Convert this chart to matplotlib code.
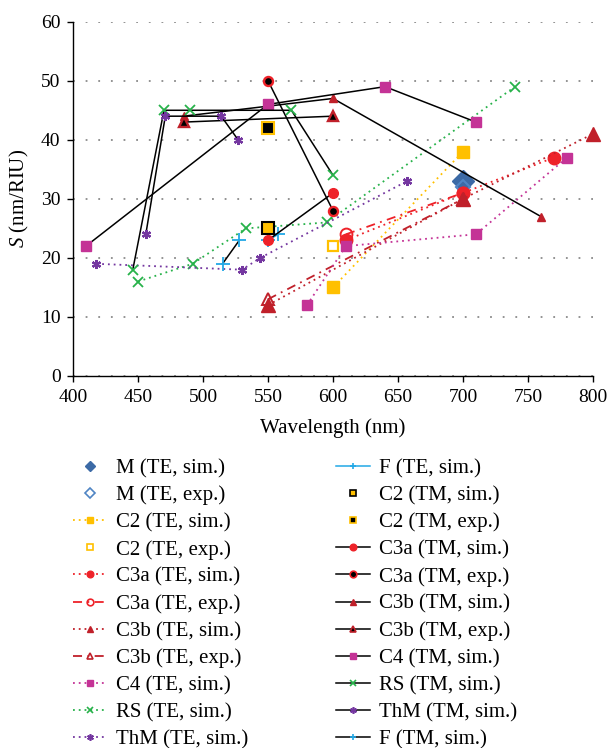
import matplotlib
matplotlib.use("Agg")
import matplotlib.pyplot as plt
from matplotlib.lines import Line2D

plt.rcParams['font.family'] = ['Liberation Serif', 'DejaVu Serif']
plt.rcParams['mathtext.fontset'] = 'custom'
plt.rcParams['mathtext.it'] = 'Liberation Serif:italic'
plt.rcParams['mathtext.rm'] = 'Liberation Serif'

# ---------------- data ----------------
m_te_sim_x, m_te_sim_y = [700], [33]
m_te_exp_x, m_te_exp_y = [700], [32]
c2_te_sim_x, c2_te_sim_y = [600, 700], [15, 38]
c2_te_exp_x, c2_te_exp_y = [600], [22]
c3a_te_sim_x, c3a_te_sim_y = [610, 700, 770], [23, 31, 37]
c3a_te_exp_x, c3a_te_exp_y = [610, 700], [24, 31]
c3b_te_sim_x, c3b_te_sim_y = [550, 700, 800], [12, 30, 41]
c3b_te_exp_x, c3b_te_exp_y = [550, 700], [13, 30]
c4_te_sim_x, c4_te_sim_y = [580, 610, 710, 780], [12, 22, 24, 37]
rs_te_sim_x, rs_te_sim_y = [450, 492, 533, 595, 740], [16, 19, 25, 26, 49]
thm_te_sim_x, thm_te_sim_y = [418, 530, 544, 657], [19, 18, 20, 33]
f_te_sim_x, f_te_sim_y = [550, 558], [23, 24]
c2_tm_sim_x, c2_tm_sim_y = [550], [25]
c2_tm_exp_x, c2_tm_exp_y = [550], [42]
c3a_tm_sim_x, c3a_tm_sim_y = [550, 600], [23, 31]
c3a_tm_exp_x, c3a_tm_exp_y = [550, 600], [50, 28]
c3b_tm_sim_x, c3b_tm_sim_y = [485, 600, 760], [44, 47, 27]
c3b_tm_exp_x, c3b_tm_exp_y = [485, 600], [43, 44]
c4_tm_sim_x, c4_tm_sim_y = [410, 550, 640, 710], [22, 46, 49, 43]
rs_tm_sim_x, rs_tm_sim_y = [446, 470, 490, 568, 600], [18, 45, 45, 45, 34]
thm_tm_sim_x, thm_tm_sim_y = [456, 471, 514, 527], [24, 44, 44, 40]
f_tm_sim_x, f_tm_sim_y = [515, 528], [19, 23]

x_ticks = [400, 450, 500, 550, 600, 650, 700, 750, 800]
y_ticks = [0, 10, 20, 30, 40, 50, 60]

# ---------------- styles ----------------
BLUE = '#3C6AA6'
BLUE2 = '#4F84C4'
GOLD = '#FFC000'
RED = '#EE2229'
DRED = '#C0202A'
MAG = '#C43396'
GREEN = '#27B24A'
PURP = '#7437A0'
LBLUE = '#22A8E6'

DOT = (0, (1, 2.2))
DASHDOT = (0, (5, 3, 1, 3))
STAR = (6, 2, 0)

series = [
    ("M (TE, sim.)", m_te_sim_x, m_te_sim_y, dict(ls='none', marker='D', ms=11, mfc=BLUE, mec=BLUE)),
    ("M (TE, exp.)", m_te_exp_x, m_te_exp_y, dict(ls='none', marker='D', ms=7.5, mfc='none', mec=BLUE2, mew=1.5)),
    ("C2 (TE, sim.)", c2_te_sim_x, c2_te_sim_y, dict(color=GOLD, ls=DOT, lw=1.3, marker='s', ms=8, mfc=GOLD, mec=GOLD)),
    ("C2 (TE, exp.)", c2_te_exp_x, c2_te_exp_y, dict(ls='none', marker='s', ms=7.5, mfc='white', mec=GOLD, mew=1.6)),
    ("C3a (TE, sim.)", c3a_te_sim_x, c3a_te_sim_y, dict(color=RED, ls=DOT, lw=1.3, marker='o', ms=9, mfc=RED, mec=RED)),
    ("C3a (TE, exp.)", c3a_te_exp_x, c3a_te_exp_y, dict(color=RED, ls=DASHDOT, lw=1.3, marker='o', ms=8.5, mfc='none', mec=RED, mew=1.4)),
    ("C3b (TE, sim.)", c3b_te_sim_x, c3b_te_sim_y, dict(color=DRED, ls=DOT, lw=1.3, marker='^', ms=9.5, mfc=DRED, mec=DRED)),
    ("C3b (TE, exp.)", c3b_te_exp_x, c3b_te_exp_y, dict(color=DRED, ls=DASHDOT, lw=1.3, marker='^', ms=8.5, mfc='none', mec=DRED, mew=1.4)),
    ("C4 (TE, sim.)", c4_te_sim_x, c4_te_sim_y, dict(color=MAG, ls=DOT, lw=1.3, marker='s', ms=6.5, mfc=MAG, mec=MAG)),
    ("RS (TE, sim.)", rs_te_sim_x, rs_te_sim_y, dict(color=GREEN, ls=DOT, lw=1.3, marker='x', ms=7.5, mew=1.3, mec=GREEN)),
    ("ThM (TE, sim.)", thm_te_sim_x, thm_te_sim_y, dict(color=PURP, ls=DOT, lw=1.3, marker=STAR, ms=6.5, mew=1.6, mec=PURP)),
    ("F (TE, sim.)", f_te_sim_x, f_te_sim_y, dict(color=LBLUE, ls='-', lw=1.1, marker='+', ms=9.5, mew=1.3, mec=LBLUE)),
    ("C2 (TM, sim.)", c2_tm_sim_x, c2_tm_sim_y, dict(ls='none', marker='s', ms=8, mfc=GOLD, mec='black', mew=1.5)),
    ("C2 (TM, exp.)", c2_tm_exp_x, c2_tm_exp_y, dict(ls='none', marker='s', ms=8, mfc='black', mec=GOLD, mew=1.5)),
    ("C3a (TM, sim.)", c3a_tm_sim_x, c3a_tm_sim_y, dict(color='black', ls='-', lw=1.1, marker='o', ms=7, mfc=RED, mec=RED)),
    ("C3a (TM, exp.)", c3a_tm_exp_x, c3a_tm_exp_y, dict(color='black', ls='-', lw=1.1, marker='o', ms=6.5, mfc='black', mec=RED, mew=1.7)),
    ("C3b (TM, sim.)", c3b_tm_sim_x, c3b_tm_sim_y, dict(color='black', ls='-', lw=1.1, marker='^', ms=6, mfc=DRED, mec=DRED)),
    ("C3b (TM, exp.)", c3b_tm_exp_x, c3b_tm_exp_y, dict(color='black', ls='-', lw=1.1, marker='^', ms=7.5, mfc='black', mec=DRED, mew=1.7)),
    ("C4 (TM, sim.)", c4_tm_sim_x, c4_tm_sim_y, dict(color='black', ls='-', lw=1.1, marker='s', ms=6.5, mfc=MAG, mec=MAG)),
    ("RS (TM, sim.)", rs_tm_sim_x, rs_tm_sim_y, dict(color='black', ls='-', lw=1.1, marker='x', ms=7.5, mew=1.3, mec=GREEN)),
    ("ThM (TM, sim.)", thm_tm_sim_x, thm_tm_sim_y, dict(color='black', ls='-', lw=1.1, marker=STAR, ms=6.5, mew=1.6, mec=PURP)),
    ("F (TM, sim.)", f_tm_sim_x, f_tm_sim_y, dict(color='black', ls='-', lw=1.1, marker='+', ms=9.5, mew=1.3, mec=LBLUE)),
]

fig = plt.figure(figsize=(6.10, 7.48), dpi=100)
ax = fig.add_axes([73 / 610, 1 - 376 / 748, 520 / 610, (376 - 21.7) / 748])

handles = []
for i, (label, xs, ys, st) in enumerate(series):
    ax.plot(xs, ys, clip_on=False, zorder=3 + i * 0.1, **st)
    hst = dict(st)
    hst['ms'] = min(st.get('ms', 6), 6) * 0.8
    if 'mew' in hst:
        hst['mew'] = min(hst['mew'], 1.2)
    handles.append(Line2D([], [], label=label, **hst))

ax.set_xlim(400, 800)
ax.set_ylim(0, 60)
ax.set_xticks(x_ticks)
ax.set_yticks(y_ticks)
ax.tick_params(direction='out', length=4, width=1, labelsize=14, colors='black', pad=5)
for s in ['top', 'right']:
    ax.spines[s].set_visible(False)
for s in ['left', 'bottom']:
    ax.spines[s].set_linewidth(1.0)
ax.yaxis.grid(True, color='#8a8a8a', linestyle=(0, (1, 6)), linewidth=1.3)
ax.set_axisbelow(True)
ax.set_xlabel("Wavelength (nm)", fontsize=15, labelpad=9)
ax.set_ylabel("$S$ (nm/RIU)", fontsize=15, labelpad=7)

fig.legend(handles=handles, ncol=2, loc='upper left',
           bbox_to_anchor=(73 / 610, 1 - 458.5 / 748),
           frameon=False, fontsize=15, handlelength=1.63, handletextpad=0.45,
           columnspacing=4.2, labelspacing=0.36, borderpad=0, borderaxespad=0)

fig.savefig("out.png", dpi=100)
